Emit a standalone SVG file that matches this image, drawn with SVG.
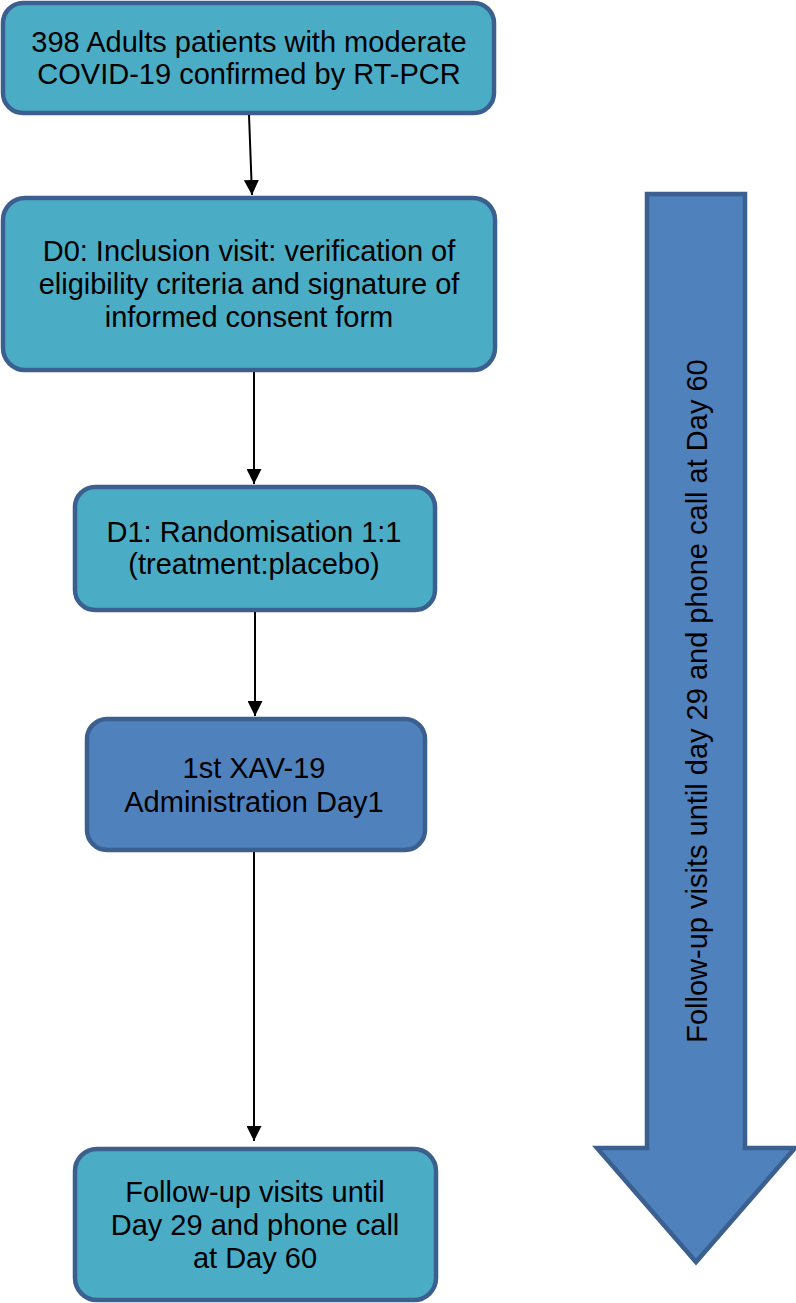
<svg xmlns="http://www.w3.org/2000/svg" width="796" height="1303" viewBox="0 0 796 1303">
<defs>
<style>
.box{fill:#4bacc6;stroke:#3b5f8f;stroke-width:4.5}
.box2{fill:#4f81bd;stroke:#3b5f8f;stroke-width:4.5}
.t{font-family:"Liberation Sans",Arial,sans-serif;font-size:29px;fill:#000;text-anchor:middle}
.c{stroke:#000;stroke-width:2;fill:none}
</style>
<marker id="ah" viewBox="0 0 10 10" refX="10" refY="5" markerWidth="7.5" markerHeight="7.5" markerUnits="strokeWidth" orient="auto">
<path d="M0,0 L10,5 L0,10 z" fill="#000"/>
</marker>
</defs>
<rect width="796" height="1303" fill="#fff"/>
<g id="followup-arrow">
<path d="M647,194 L745,194 L745,1148 L795,1148 L696,1262 L597,1148 L647,1148 Z" fill="#4f81bd" stroke="#3b5f8f" stroke-width="4.5" stroke-linejoin="miter"/>
<text class="t" transform="translate(707,701) rotate(-90)">Follow-up visits until day 29 and phone call at Day 60</text>
</g>
<g id="n1">
<rect class="box" x="3" y="3" width="491" height="110" rx="20"/>
<text class="t" x="249" y="52">398 Adults patients with moderate</text>
<text class="t" x="249" y="84">COVID-19 confirmed by RT-PCR</text>
</g>
<g id="n2">
<rect class="box" x="3" y="198" width="492" height="172" rx="22"/>
<text class="t" x="249" y="261">D0: Inclusion visit: verification of</text>
<text class="t" x="249" y="294">eligibility criteria and signature of</text>
<text class="t" x="249" y="327">informed consent form</text>
</g>
<g id="n3">
<rect class="box" x="75" y="487" width="360" height="123" rx="20"/>
<text class="t" x="254" y="542">D1: Randomisation 1:1</text>
<text class="t" x="254" y="574">(treatment:placebo)</text>
</g>
<g id="n4">
<rect class="box2" x="87" y="719" width="338" height="131" rx="20"/>
<text class="t" x="254" y="778">1st XAV-19</text>
<text class="t" x="254" y="812">Administration Day1</text>
</g>
<g id="n5">
<rect class="box" x="75" y="1149" width="361" height="151" rx="22"/>
<text class="t" x="255" y="1202">Follow-up visits until</text>
<text class="t" x="255" y="1235">Day 29 and phone call</text>
<text class="t" x="255" y="1268">at Day 60</text>
</g>
<g id="connectors">
<line class="c" x1="249" y1="115" x2="252" y2="195" marker-end="url(#ah)"/>
<line class="c" x1="254" y1="372" x2="254" y2="484" marker-end="url(#ah)"/>
<line class="c" x1="255" y1="612" x2="255" y2="716" marker-end="url(#ah)"/>
<line class="c" x1="254" y1="852" x2="254" y2="1141" marker-end="url(#ah)"/>
</g>
</svg>
